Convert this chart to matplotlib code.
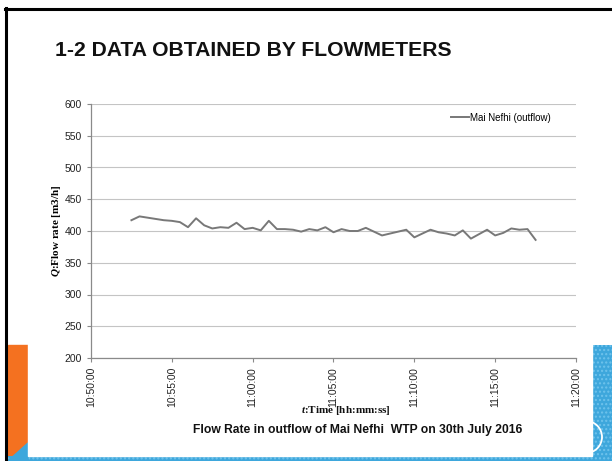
import matplotlib
matplotlib.use('Agg')
import matplotlib.pyplot as plt
import matplotlib.dates as mdates
from matplotlib.patches import Rectangle, Polygon, Circle
import pandas as pd

# flow readings, one every 30 s from 10:52:30
start_time = '2016-07-30 10:52:30'
flow_rate = [417, 423, 421, 419, 417, 416, 414, 406, 420, 409,
             404, 406, 405, 413, 403, 405, 401, 416, 403, 403,
             402, 399, 403, 401, 406, 398, 403, 400, 400, 405,
             399, 393, 396, 399, 402, 390, 396, 402, 398, 396,
             393, 401, 388, 395, 402, 393, 397, 404, 402, 403,
             386]
times = pd.date_range(start_time, periods=len(flow_rate), freq='30s')

y_ticks = [200, 250, 300, 350, 400, 450, 500, 550, 600]
x_ticks = pd.date_range('2016-07-30 10:50:00', '2016-07-30 11:20:00', freq='5min')

series_name = 'Mai Nefhi (outflow)'
title = '1-2 DATA OBTAINED BY FLOWMETERS'
caption = 'Flow Rate in outflow of Mai Nefhi  WTP on 30th July 2016'

sans = ['Liberation Sans', 'DejaVu Sans']
serif = ['Liberation Serif', 'DejaVu Serif']
plt.rcParams['mathtext.fontset'] = 'custom'
plt.rcParams['mathtext.it'] = 'Liberation Serif:bold:italic'

W, H = 612, 461
fig = plt.figure(figsize=(W / 100, H / 100), dpi=100)

# slide background drawn in pixel coordinates
bg = fig.add_axes([0, 0, 1, 1], zorder=0)
bg.set_xlim(0, W)
bg.set_ylim(H, 0)
bg.axis('off')
blue = '#3ea7dc'
bg.add_patch(Rectangle((8, 345), 20, 116, color='#f47120'))
bg.add_patch(Rectangle((591, 345), 21, 116, facecolor=blue, edgecolor='#6fc3ec',
                       hatch='....', lw=0))
bg.add_patch(Rectangle((8, 456), 604, 5, facecolor=blue, edgecolor='#6fc3ec',
                       hatch='....', lw=0))
bg.add_patch(Polygon([(8, 461), (28, 443), (28, 461)], color=blue))
bg.add_patch(Circle((586, 437), 16, fill=False, ec='white', lw=1.3))
bg.add_patch(Rectangle((28, 330), 564, 126, color='white'))
bg.plot([6, 6], [8, 461], color='black', lw=2.2)
bg.plot([5, 612], [9, 9], color='black', lw=2.2)

bg.text(55, 50, title, fontsize=15.2, fontweight='bold', family=sans,
        va='center', ha='left', color='#111111')
bg.text(358, 430, caption, fontsize=8.7, fontweight='bold', family=sans,
        va='center', ha='center', color='#111111')
bg.text(346, 410, '$t$:Time [hh:mm:ss]', fontsize=8, fontweight='bold',
        family=serif, va='center', ha='center', color='#111111')

ax = fig.add_axes([91 / W, 1 - 358 / H, 485 / W, 254 / H], zorder=1)
ax.patch.set_alpha(0)
ax.plot(times, flow_rate, color='#787878', lw=1.4, label=series_name)

ax.set_ylim(200, 600)
ax.set_yticks(y_ticks)
ax.set_xlim(x_ticks[0], x_ticks[-1])
ax.set_xticks(x_ticks)
ax.xaxis.set_major_formatter(mdates.DateFormatter('%H:%M:%S'))
ax.grid(axis='y', color='#c4c4c4', lw=0.8)
ax.set_axisbelow(True)
for side in ['top', 'right']:
    ax.spines[side].set_visible(False)
for side in ['left', 'bottom']:
    ax.spines[side].set_color('#8a8a8a')
    ax.spines[side].set_linewidth(0.9)
ax.tick_params(colors='#8a8a8a', length=3, width=0.8, labelcolor='#222222')
for lab in ax.get_yticklabels():
    lab.set_family(sans)
    lab.set_fontsize(7.5)
for lab in ax.get_xticklabels():
    lab.set_family(sans)
    lab.set_fontsize(7.5)
    lab.set_rotation(90)

ax.set_ylabel('$Q$:Flow rate [m3/h]', fontsize=8, fontweight='bold',
              family=serif)
ax.yaxis.set_label_coords(-0.058, 0.5)

ax.legend(loc='upper right', bbox_to_anchor=(0.965, 1.0), frameon=False,
          prop={'family': sans, 'size': 7}, handlelength=1.8,
          handletextpad=0.1)

fig.savefig('out.png', dpi=100)
